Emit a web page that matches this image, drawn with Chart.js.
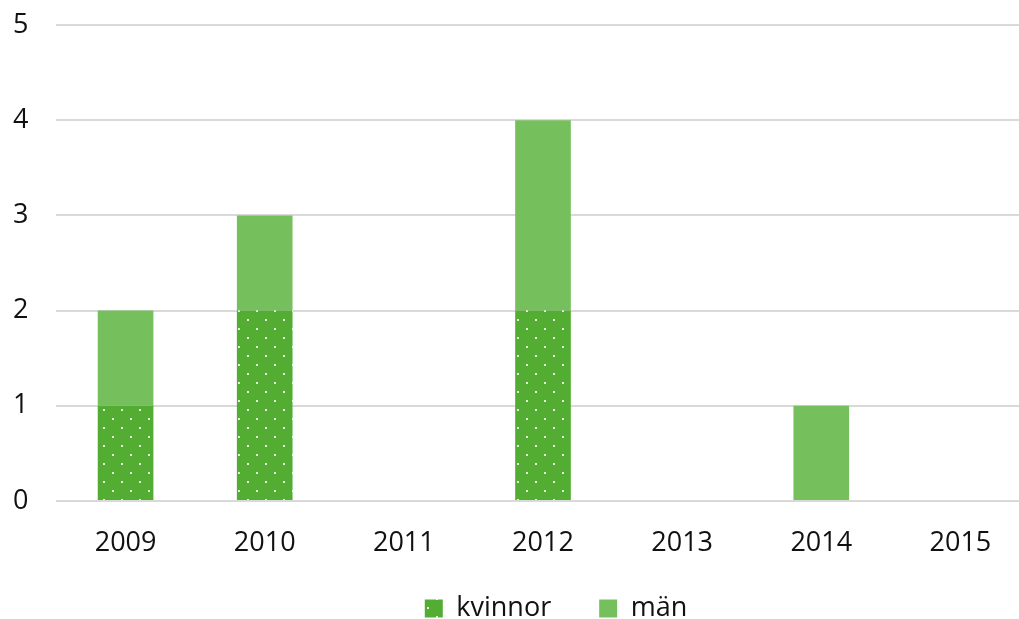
<!DOCTYPE html>
<html>
<head>
<meta charset="utf-8">
<script src="https://cdn.jsdelivr.net/npm/chart.js@4/dist/chart.umd.min.js"></script>
<style>
  html, body { margin: 0; padding: 0; background: #fff; }
  #wrap { width: 1019px; height: 619px; }
</style>
</head>
<body>
<div id="wrap"><canvas id="chart"></canvas></div>
<script>
const years = ["2009", "2010", "2011", "2012", "2013", "2014", "2015"];
const kvinnor = [1, 2, 0, 2, 0, 0, 0];
const man = [1, 1, 0, 2, 0, 1, 0];
const yTicks = [0, 1, 2, 3, 4, 5];

// dotted fill for the women's series
function dotPattern(base) {
  const c = document.createElement("canvas");
  c.width = 18;
  c.height = 18;
  const g = c.getContext("2d");
  g.fillStyle = base;
  g.fillRect(0, 0, 18, 18);
  g.fillStyle = "rgba(255,255,255,0.85)";
  g.fillRect(4, 4, 2, 2);
  g.fillRect(13, 13, 2, 2);
  return g.createPattern(c, "repeat");
}

const font = { family: "'Open Sans', sans-serif", size: 27 };

// fine-tune legend placement, let the year labels spill below the x box
// and run the category axis a bit past the right edge
const tweakLayout = {
  id: "tweakLayout",
  afterLayout(chart) {
    const l = chart.legend;
    l.left += 40;
    l.right += 40;
    l.top += 13;
    l.bottom += 13;
    const x = chart.scales.x;
    x.bottom += 40;
    x.right += 11;
    x.configure();
  },
};

new Chart(document.getElementById("chart"), {
  type: "bar",
  data: {
    labels: years,
    datasets: [
      {
        label: "kvinnor",
        data: kvinnor,
        backgroundColor: dotPattern("#52ad32"),
        barPercentage: 0.4,
        categoryPercentage: 1,
      },
      {
        label: "män",
        data: man,
        backgroundColor: "#75c05c",
        barPercentage: 0.4,
        categoryPercentage: 1,
      },
    ],
  },
  plugins: [tweakLayout],
  options: {
    responsive: true,
    maintainAspectRatio: false,
    animation: false,
    layout: { padding: { top: 25, right: 0, bottom: 0, left: 13 } },
    plugins: {
      tooltip: { enabled: false },
      legend: {
        position: "bottom",
        labels: {
          boxWidth: 18,
          boxHeight: 18,
          padding: 48,
          color: "#111",
          font: font,
        },
      },
    },
    scales: {
      x: {
        stacked: true,
        afterFit: (s) => { s.height = 33; },
        grid: { display: false },
        border: { display: false },
        ticks: { color: "#111", font: font, padding: 18 },
      },
      y: {
        stacked: true,
        min: 0,
        max: 5,
        afterFit: (s) => { s.width = 43; },
        afterBuildTicks: (s) => { s.ticks = yTicks.map((v) => ({ value: v })); },
        grid: { color: "#d9d9d9", lineWidth: 2, drawTicks: false },
        border: { display: false },
        ticks: { color: "#111", font: font, padding: 0, crossAlign: "far" },
      },
    },
  },
});
</script>
</body>
</html>
